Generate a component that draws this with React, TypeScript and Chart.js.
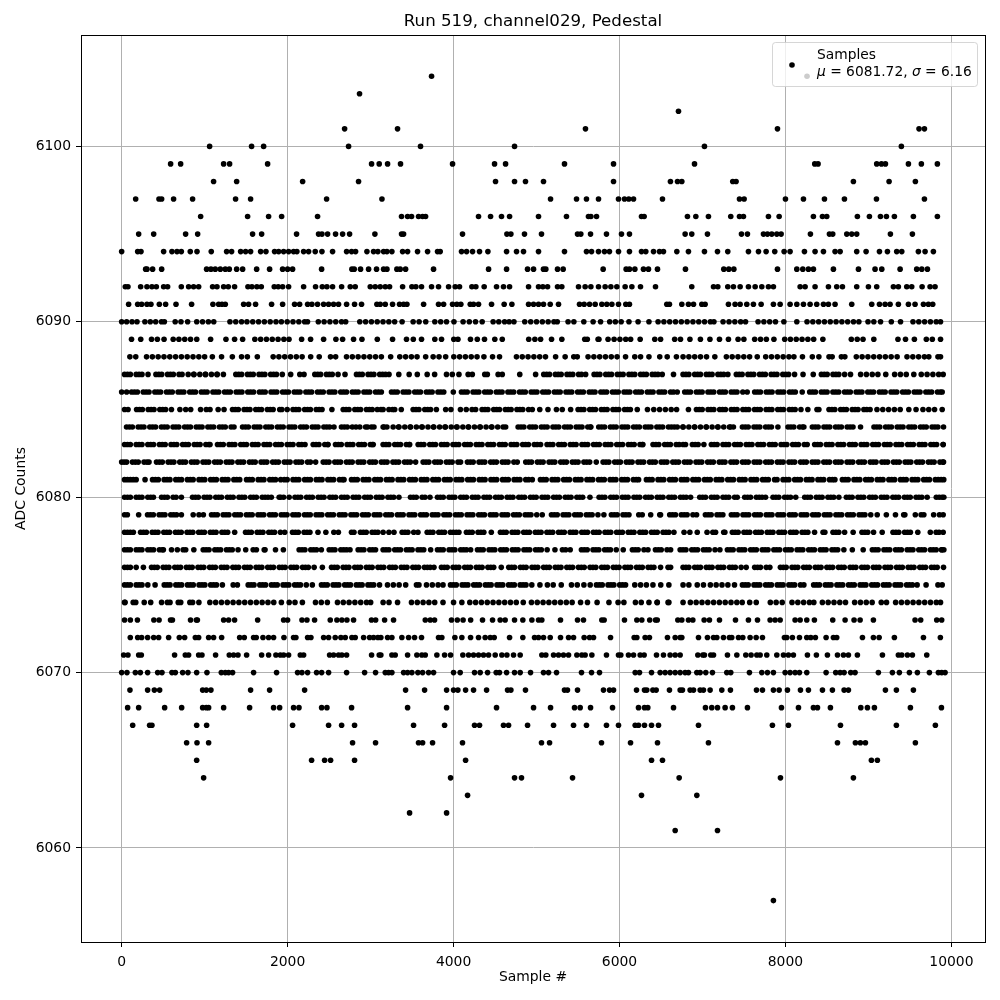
import React, { useEffect, useRef } from "react";
import { Chart, registerables } from "chart.js";

Chart.register(...registerables);

const chartTitle = "Run 519, channel029, Pedestal";
const xTitle = "Sample #";
const yTitle = "ADC Counts";
const legendName = "Samples";
const xTicks = [0, 2000, 4000, 6000, 8000, 10000];
const yTicks = [6060, 6070, 6080, 6090, 6100];

const r6104 = [3735, 8260];
const r6103 = [2867];
const r6102 = [6711];
const r6101 = [2687, 3325, 5590, 7904, 9610, 9675];
const r6100 = [1060, 1566, 1711, 2735, 3602, 4735, 7024, 9397];
const r6099 = [590, 711, 1229, 1301, 1759, 3012, 3104, 3205, 3361, 3988, 4494, 4627, 5337, 5928, 6904, 8353, 8393, 9100, 9157, 9205, 9482, 9638, 9831];
const r6098 = [1108, 1386, 2181, 2855, 4506, 4735, 4867, 5084, 5928, 6614, 6699, 6751, 7365, 7405, 8819, 9249, 9566];
const r6097 = [169, 450, 482, 626, 855, 1373, 1554, 2470, 3137, 5169, 5482, 5602, 5747, 5988, 6060, 6112, 6169, 6518, 7446, 7502, 8000, 8217, 8470, 8711, 9097, 9675];
const r6096 = [952, 1518, 1771, 1928, 2361, 3373, 3446, 3494, 3578, 3627, 3663, 4301, 4446, 4578, 4675, 5024, 5361, 5626, 5655, 5723, 6265, 6297, 6819, 6920, 7072, 7341, 7446, 7494, 7795, 7924, 8337, 8446, 8498, 8867, 9012, 9145, 9217, 9313, 9542, 9831];
const r6095 = [205, 386, 771, 916, 1578, 1687, 2108, 2373, 2414, 2482, 2578, 2663, 2747, 3052, 3373, 3398, 4108, 4643, 4691, 4855, 5060, 5494, 5534, 5651, 5843, 6024, 6120, 6791, 6871, 7060, 7470, 7542, 7735, 7783, 7835, 7896, 7948, 8301, 8530, 8570, 8739, 8799, 8859, 9265, 9530];
const r6094 = [0, 193, 233, 506, 606, 667, 719, 827, 908, 1080, 1265, 1325, 1434, 1494, 1554, 1675, 1739, 1843, 1892, 1952, 2012, 2072, 2112, 2193, 2253, 2333, 2414, 2542, 2711, 2771, 2819, 2956, 3036, 3088, 3157, 3197, 3257, 3386, 3446, 3566, 3687, 3807, 3839, 4096, 4157, 4229, 4313, 4414, 4639, 4759, 4843, 5024, 5337, 5602, 5663, 5747, 5819, 5879, 5988, 6120, 6265, 6317, 6410, 6482, 6530, 6691, 6831, 7024, 7181, 7305, 7554, 7675, 7767, 7871, 7984, 8056, 8229, 8357, 8458, 8598, 8659, 8859, 8972, 9133, 9229, 9341, 9402, 9602, 9683, 9783];
const r6093 = [289, 305, 373, 482, 1024, 1076, 1128, 1189, 1249, 1297, 1386, 1458, 1627, 1783, 1940, 2000, 2060, 2410, 2775, 2803, 2879, 2976, 3072, 3157, 3197, 3317, 3357, 3422, 3759, 4422, 4639, 4892, 4964, 5084, 5112, 5253, 5321, 5803, 6080, 6120, 6185, 6289, 6349, 6458, 6795, 7257, 7317, 7378, 7904, 8137, 8209, 8277, 8337, 8578, 8880, 9080, 9161, 9382, 9582, 9643, 9711];
const r6092 = [44, 76, 229, 305, 365, 418, 506, 554, 719, 807, 867, 928, 1096, 1149, 1229, 1285, 1361, 1522, 1570, 1630, 1683, 1839, 1887, 1940, 2012, 2193, 2337, 2418, 2474, 2542, 2651, 2755, 2815, 2996, 3056, 3116, 3177, 3229, 3386, 3498, 3546, 3614, 3735, 3819, 3940, 4020, 4072, 4221, 4269, 4369, 4518, 4602, 4675, 4904, 5024, 5076, 5133, 5253, 5305, 5506, 5586, 5655, 5747, 5827, 5896, 5968, 6068, 6149, 6253, 6434, 6871, 7133, 7185, 7305, 7373, 7454, 7554, 7635, 7715, 7795, 7855, 8177, 8237, 8357, 8518, 8618, 8687, 8859, 9000, 9100, 9301, 9361, 9462, 9522, 9647, 9743, 9803];
const r6091 = [84, 193, 241, 305, 353, 454, 530, 655, 843, 1100, 1169, 1209, 1249, 1470, 1530, 1614, 1807, 1940, 2084, 2145, 2241, 2293, 2361, 2434, 2494, 2554, 2614, 2711, 2807, 2891, 3076, 3116, 3177, 3265, 3349, 3398, 3438, 3639, 3819, 3880, 3988, 4040, 4088, 4201, 4241, 4301, 4458, 4610, 4703, 4904, 4964, 5024, 5084, 5165, 5265, 5518, 5574, 5639, 5707, 5787, 5847, 5908, 5988, 6076, 6120, 6570, 6602, 6751, 6831, 6892, 6992, 7032, 7313, 7393, 7454, 7534, 7614, 7707, 7855, 7936, 8056, 8137, 8217, 8297, 8377, 8458, 8518, 8598, 8799, 9040, 9133, 9201, 9261, 9361, 9482, 9562, 9663, 9723, 9775];
const r6090 = [0, 60, 125, 185, 280, 345, 410, 480, 515, 645, 715, 795, 905, 975, 1045, 1110, 1305, 1375, 1445, 1510, 1580, 1650, 1720, 1790, 1860, 1925, 1995, 2065, 2135, 2205, 2240, 2370, 2440, 2510, 2580, 2650, 2700, 2870, 2940, 3010, 3080, 3150, 3220, 3290, 3380, 3513, 3585, 3665, 3774, 3845, 3915, 4005, 4115, 4190, 4265, 4345, 4477, 4545, 4615, 4670, 4728, 4858, 4930, 5000, 5070, 5140, 5210, 5250, 5380, 5450, 5570, 5682, 5772, 5882, 5950, 6020, 6114, 6224, 6355, 6465, 6535, 6605, 6675, 6745, 6815, 6885, 6955, 7025, 7095, 7138, 7248, 7320, 7390, 7460, 7519, 7670, 7740, 7810, 7880, 7981, 8137, 8260, 8330, 8400, 8470, 8540, 8610, 8680, 8750, 8820, 8885, 8995, 9065, 9146, 9276, 9387, 9537, 9607, 9677, 9747, 9817, 9869];
const r6089 = [119, 230, 360, 430, 511, 621, 690, 760, 830, 905, 1072, 1257, 1361, 1458, 1605, 1675, 1745, 1815, 1885, 1955, 2017, 2169, 2277, 2434, 2582, 2663, 2795, 2896, 3081, 3265, 3433, 3515, 3614, 3774, 3855, 4003, 4053, 4204, 4286, 4373, 4497, 4587, 4906, 4980, 5049, 5181, 5305, 5581, 5612, 5742, 5752, 5862, 5935, 6005, 6075, 6134, 6249, 6425, 6495, 6665, 6735, 6849, 6975, 7090, 7205, 7313, 7429, 7499, 7629, 7700, 7770, 7861, 7991, 8060, 8130, 8200, 8270, 8340, 8451, 8794, 8865, 8935, 9065, 9356, 9447, 9554, 9698, 9770, 9869];
const r6088 = [99, 170, 300, 370, 440, 510, 580, 650, 720, 790, 860, 930, 1000, 1093, 1204, 1334, 1445, 1515, 1635, 1826, 1895, 1965, 2035, 2105, 2175, 2278, 2381, 2517, 2579, 2710, 2780, 2850, 2920, 2990, 3060, 3130, 3242, 3352, 3422, 3492, 3560, 3664, 3754, 3825, 3905, 4003, 4073, 4143, 4213, 4283, 4366, 4470, 4554, 4758, 4828, 4898, 4968, 5038, 5108, 5230, 5345, 5449, 5491, 5621, 5691, 5761, 5831, 5901, 5971, 6073, 6184, 6254, 6355, 6485, 6575, 6686, 6766, 6836, 6906, 6976, 7049, 7149, 7288, 7358, 7428, 7498, 7568, 7660, 7762, 7832, 7902, 7972, 8042, 8102, 8205, 8324, 8403, 8525, 8563, 8674, 8716, 8854, 8924, 8994, 9064, 9134, 9204, 9274, 9346, 9465, 9535, 9605, 9675, 9728, 9838, 9869];
const r6087 = [35, 105, 175, 245, 318, 413, 483, 553, 623, 692, 802, 872, 942, 1012, 1082, 1152, 1226, 1376, 1446, 1516, 1586, 1656, 1726, 1796, 1866, 1936, 2037, 2147, 2198, 2328, 2398, 2468, 2538, 2608, 2692, 2830, 2900, 2970, 3040, 3110, 3180, 3222, 3340, 3465, 3563, 3682, 3772, 3915, 3985, 4065, 4176, 4226, 4376, 4407, 4537, 4587, 4798, 4989, 5087, 5157, 5227, 5297, 5367, 5437, 5507, 5592, 5694, 5764, 5834, 5904, 5974, 6044, 6114, 6184, 6254, 6324, 6394, 6464, 6515, 6651, 6766, 6836, 6906, 6976, 7046, 7116, 7186, 7256, 7306, 7408, 7478, 7548, 7618, 7688, 7758, 7828, 7898, 7968, 8038, 8110, 8212, 8335, 8433, 8503, 8573, 8643, 8713, 8784, 8906, 8976, 9046, 9114, 9209, 9316, 9386, 9456, 9547, 9637, 9707, 9777, 9847, 9901];
const r6086 = [0, 60, 120, 190, 260, 330, 400, 470, 540, 610, 680, 750, 820, 890, 960, 1030, 1100, 1170, 1240, 1310, 1380, 1450, 1520, 1590, 1660, 1730, 1800, 1870, 1940, 2010, 2080, 2150, 2220, 2290, 2360, 2430, 2500, 2570, 2640, 2710, 2780, 2850, 2920, 2990, 3060, 3130, 3252, 3322, 3392, 3462, 3532, 3602, 3672, 3742, 3812, 3882, 3997, 4095, 4165, 4235, 4305, 4375, 4445, 4515, 4585, 4655, 4725, 4795, 4865, 4935, 5005, 5075, 5145, 5215, 5285, 5355, 5425, 5495, 5565, 5635, 5705, 5775, 5845, 5915, 5985, 6055, 6125, 6195, 6265, 6335, 6405, 6475, 6545, 6615, 6696, 6786, 6856, 6926, 6996, 7066, 7136, 7206, 7276, 7346, 7416, 7486, 7539, 7629, 7699, 7769, 7839, 7909, 7979, 8049, 8119, 8202, 8292, 8362, 8432, 8502, 8572, 8642, 8712, 8782, 8852, 8922, 8992, 9062, 9132, 9202, 9272, 9342, 9412, 9482, 9552, 9622, 9692, 9762, 9832, 9889];
const r6085 = [35, 77, 180, 250, 320, 390, 460, 530, 600, 702, 772, 832, 951, 1020, 1065, 1163, 1234, 1336, 1406, 1476, 1546, 1616, 1686, 1756, 1826, 1905, 1995, 2065, 2135, 2205, 2275, 2345, 2415, 2534, 2670, 2740, 2810, 2880, 2950, 3020, 3081, 3151, 3221, 3291, 3370, 3513, 3583, 3653, 3723, 3793, 3905, 3968, 4083, 4153, 4223, 4266, 4344, 4414, 4484, 4554, 4624, 4694, 4764, 4834, 4904, 4949, 5039, 5138, 5240, 5310, 5411, 5501, 5571, 5641, 5711, 5781, 5851, 5921, 5991, 6061, 6131, 6214, 6337, 6413, 6483, 6553, 6623, 6688, 6831, 6927, 6997, 7067, 7137, 7207, 7277, 7347, 7417, 7487, 7557, 7627, 7697, 7767, 7837, 7907, 7977, 8047, 8117, 8187, 8270, 8380, 8403, 8525, 8595, 8665, 8735, 8805, 8875, 8945, 9020, 9103, 9173, 9243, 9313, 9383, 9487, 9574, 9657, 9727, 9797, 9889];
const r6084 = [59, 129, 199, 269, 339, 409, 479, 549, 619, 689, 759, 829, 899, 969, 1039, 1109, 1179, 1249, 1319, 1354, 1457, 1527, 1597, 1667, 1737, 1807, 1877, 1947, 2017, 2087, 2157, 2227, 2297, 2367, 2437, 2507, 2559, 2649, 2719, 2780, 2870, 2940, 3010, 3041, 3151, 3162, 3272, 3342, 3412, 3482, 3552, 3622, 3692, 3762, 3832, 3902, 3972, 4042, 4112, 4182, 4252, 4322, 4392, 4462, 4532, 4628, 4778, 4848, 4918, 4988, 5058, 5128, 5198, 5268, 5338, 5408, 5478, 5548, 5618, 5652, 5750, 5820, 5890, 5960, 6030, 6100, 6170, 6240, 6310, 6380, 6450, 6520, 6590, 6660, 6696, 6766, 6836, 6906, 6976, 7046, 7116, 7186, 7256, 7338, 7373, 7481, 7551, 7621, 7691, 7761, 7831, 7909, 8031, 8101, 8171, 8222, 8324, 8394, 8464, 8534, 8604, 8674, 8744, 8814, 8905, 9067, 9137, 9207, 9277, 9347, 9417, 9487, 9557, 9627, 9697, 9767, 9837, 9905];
const r6083 = [35, 105, 175, 245, 315, 385, 455, 525, 595, 665, 735, 805, 875, 945, 1015, 1065, 1155, 1225, 1295, 1365, 1435, 1505, 1575, 1645, 1715, 1785, 1855, 1925, 1995, 2065, 2135, 2210, 2308, 2378, 2448, 2487, 2577, 2647, 2717, 2787, 2857, 2927, 2997, 3021, 3151, 3221, 3291, 3361, 3431, 3471, 3573, 3643, 3713, 3783, 3853, 3923, 3993, 4063, 4133, 4203, 4273, 4343, 4413, 4483, 4553, 4623, 4693, 4763, 4833, 4903, 4973, 5049, 5127, 5197, 5267, 5337, 5407, 5477, 5547, 5617, 5687, 5757, 5827, 5897, 5967, 6037, 6107, 6177, 6247, 6274, 6404, 6474, 6544, 6614, 6684, 6766, 6796, 6878, 6948, 7017, 7107, 7177, 7247, 7317, 7387, 7457, 7527, 7597, 7667, 7737, 7807, 7877, 7947, 8017, 8087, 8157, 8227, 8262, 8352, 8422, 8492, 8562, 8632, 8702, 8772, 8842, 8912, 8982, 9052, 9122, 9192, 9262, 9332, 9402, 9472, 9542, 9612, 9682, 9752, 9822, 9901];
const r6082 = [0, 60, 130, 200, 270, 330, 420, 490, 560, 630, 700, 770, 840, 910, 980, 1050, 1120, 1190, 1260, 1330, 1400, 1470, 1540, 1610, 1680, 1750, 1820, 1890, 1960, 2030, 2100, 2170, 2240, 2338, 2429, 2499, 2569, 2639, 2709, 2779, 2849, 2919, 2989, 3059, 3129, 3199, 3269, 3339, 3409, 3479, 3543, 3633, 3703, 3773, 3843, 3913, 3983, 4053, 4085, 4167, 4237, 4307, 4377, 4447, 4517, 4587, 4657, 4727, 4768, 4870, 4940, 5010, 5080, 5151, 5221, 5291, 5361, 5431, 5501, 5571, 5641, 5720, 5802, 5872, 5942, 6012, 6082, 6152, 6222, 6292, 6362, 6432, 6502, 6572, 6642, 6712, 6782, 6852, 6922, 6992, 7062, 7132, 7202, 7272, 7342, 7412, 7482, 7552, 7622, 7692, 7762, 7832, 7902, 7972, 8042, 8112, 8182, 8252, 8322, 8392, 8462, 8532, 8602, 8672, 8742, 8812, 8882, 8952, 9022, 9092, 9162, 9232, 9302, 9372, 9442, 9512, 9582, 9652, 9722, 9792, 9862, 9905];
const r6081 = [35, 105, 175, 282, 372, 442, 512, 582, 652, 722, 792, 862, 932, 1002, 1072, 1142, 1212, 1282, 1352, 1423, 1505, 1575, 1645, 1715, 1785, 1855, 1917, 1995, 2065, 2135, 2205, 2275, 2345, 2415, 2485, 2555, 2625, 2680, 2770, 2840, 2910, 2980, 3050, 3120, 3190, 3260, 3330, 3400, 3470, 3540, 3610, 3680, 3750, 3820, 3890, 3960, 4030, 4100, 4170, 4240, 4310, 4380, 4450, 4520, 4590, 4660, 4730, 4800, 4870, 4949, 5047, 5117, 5187, 5257, 5327, 5397, 5467, 5537, 5607, 5677, 5747, 5817, 5887, 5957, 6027, 6097, 6167, 6230, 6324, 6394, 6464, 6534, 6604, 6674, 6744, 6814, 6884, 6954, 7024, 7094, 7164, 7234, 7304, 7374, 7444, 7514, 7584, 7654, 7724, 7794, 7869, 7971, 8041, 8111, 8181, 8251, 8321, 8391, 8461, 8531, 8596, 8686, 8756, 8826, 8896, 8966, 9036, 9106, 9176, 9246, 9316, 9386, 9456, 9526, 9596, 9666, 9736, 9806, 9876, 9908];
const r6080 = [35, 105, 175, 245, 315, 383, 481, 551, 620, 720, 854, 924, 994, 1064, 1134, 1204, 1274, 1344, 1414, 1484, 1554, 1624, 1694, 1764, 1804, 1898, 1917, 2019, 2089, 2159, 2229, 2299, 2369, 2439, 2509, 2579, 2649, 2719, 2789, 2859, 2929, 2999, 3069, 3139, 3209, 3279, 3342, 3481, 3551, 3621, 3716, 3806, 3876, 3946, 4016, 4086, 4156, 4226, 4296, 4366, 4436, 4506, 4576, 4646, 4716, 4786, 4856, 4926, 4996, 5066, 5136, 5206, 5276, 5346, 5416, 5486, 5556, 5644, 5754, 5824, 5894, 5964, 6034, 6104, 6174, 6244, 6314, 6384, 6454, 6524, 6594, 6664, 6734, 6804, 6857, 6967, 7037, 7107, 7177, 7247, 7317, 7387, 7419, 7509, 7579, 7649, 7719, 7760, 7850, 7920, 7990, 8061, 8124, 8232, 8302, 8372, 8442, 8512, 8582, 8644, 8734, 8804, 8874, 8944, 9014, 9084, 9154, 9224, 9294, 9364, 9434, 9504, 9574, 9644, 9708, 9818, 9888, 9909];
const r6079 = [35, 69, 205, 312, 382, 452, 522, 592, 662, 720, 862, 932, 985, 1083, 1153, 1223, 1293, 1363, 1433, 1503, 1573, 1643, 1713, 1783, 1853, 1923, 1993, 2063, 2133, 2203, 2273, 2343, 2413, 2483, 2553, 2623, 2693, 2763, 2833, 2903, 2973, 3043, 3113, 3183, 3253, 3323, 3393, 3463, 3533, 3603, 3673, 3743, 3813, 3883, 3953, 4023, 4093, 4163, 4233, 4303, 4373, 4443, 4513, 4583, 4653, 4723, 4793, 4863, 4933, 5003, 5069, 5180, 5250, 5320, 5390, 5460, 5530, 5600, 5670, 5740, 5812, 5902, 5972, 6042, 6114, 6232, 6274, 6376, 6485, 6495, 6605, 6675, 6745, 6815, 6885, 6929, 7035, 7105, 7175, 7246, 7348, 7418, 7488, 7558, 7628, 7698, 7768, 7838, 7908, 7978, 8048, 8118, 8188, 8258, 8328, 8398, 8468, 8538, 8608, 8678, 8748, 8818, 8888, 8958, 9028, 9106, 9216, 9326, 9425, 9439, 9565, 9635, 9668, 9786, 9856, 9901];
const r6078 = [35, 105, 141, 228, 298, 368, 438, 508, 578, 648, 718, 788, 858, 928, 998, 1068, 1138, 1208, 1278, 1362, 1493, 1563, 1633, 1703, 1773, 1843, 1913, 1965, 2059, 2129, 2199, 2269, 2366, 2461, 2557, 2612, 2770, 2800, 2878, 2948, 3018, 3088, 3151, 3221, 3282, 3380, 3450, 3520, 3571, 3682, 3752, 3822, 3892, 3962, 4032, 4065, 4155, 4225, 4295, 4365, 4455, 4565, 4635, 4705, 4775, 4845, 4915, 4985, 5055, 5125, 5195, 5265, 5335, 5405, 5475, 5545, 5615, 5685, 5755, 5825, 5895, 5965, 6035, 6105, 6175, 6245, 6315, 6385, 6455, 6525, 6595, 6656, 6778, 6848, 6937, 7055, 7125, 7158, 7256, 7270, 7360, 7430, 7500, 7570, 7640, 7710, 7780, 7850, 7920, 7990, 8060, 8130, 8200, 8270, 8351, 8453, 8475, 8573, 8643, 8713, 8816, 8922, 8992, 9062, 9166, 9296, 9366, 9436, 9506, 9595, 9746, 9816, 9901];
const r6077 = [35, 105, 175, 245, 315, 385, 455, 503, 601, 671, 741, 772, 870, 983, 1053, 1123, 1193, 1263, 1333, 1403, 1495, 1585, 1624, 1718, 1728, 1854, 1949, 2139, 2209, 2279, 2349, 2407, 2501, 2571, 2641, 2711, 2752, 2850, 2920, 2990, 3060, 3151, 3221, 3291, 3361, 3431, 3501, 3571, 3641, 3724, 3806, 3876, 3946, 4016, 4086, 4156, 4206, 4288, 4358, 4428, 4498, 4568, 4638, 4708, 4778, 4848, 4918, 4988, 5058, 5128, 5222, 5312, 5351, 5406, 5541, 5611, 5681, 5751, 5821, 5891, 5961, 6045, 6155, 6225, 6295, 6343, 6433, 6503, 6573, 6616, 6731, 6801, 6871, 6941, 7011, 7081, 7151, 7210, 7300, 7370, 7440, 7510, 7580, 7650, 7720, 7790, 7860, 7930, 8000, 8070, 8140, 8210, 8280, 8350, 8420, 8490, 8560, 8630, 8704, 8806, 8937, 9047, 9117, 9187, 9257, 9327, 9397, 9467, 9537, 9607, 9677, 9747, 9817, 9887, 9909];
const r6076 = [35, 105, 175, 262, 360, 430, 500, 570, 640, 710, 780, 850, 920, 990, 1060, 1130, 1200, 1270, 1340, 1410, 1480, 1550, 1620, 1690, 1760, 1830, 1900, 1970, 2040, 2110, 2180, 2250, 2320, 2419, 2529, 2599, 2669, 2739, 2809, 2879, 2949, 3019, 3089, 3159, 3229, 3299, 3369, 3439, 3509, 3579, 3649, 3719, 3764, 3854, 3924, 3994, 4064, 4134, 4204, 4274, 4344, 4414, 4484, 4575, 4665, 4735, 4805, 4875, 4945, 5015, 5085, 5155, 5225, 5295, 5365, 5435, 5505, 5575, 5645, 5715, 5785, 5855, 5925, 5995, 6065, 6135, 6205, 6275, 6345, 6415, 6495, 6585, 6616, 6766, 6836, 6906, 6976, 7046, 7116, 7186, 7256, 7326, 7396, 7466, 7527, 7629, 7699, 7769, 7812, 7939, 8009, 8079, 8149, 8219, 8289, 8359, 8429, 8499, 8569, 8639, 8709, 8779, 8849, 8919, 8989, 9059, 9129, 9199, 9269, 9339, 9409, 9479, 9549, 9619, 9689, 9759, 9829, 9905];
const r6075 = [35, 105, 175, 245, 315, 403, 513, 583, 653, 723, 793, 863, 933, 1003, 1073, 1143, 1214, 1344, 1395, 1525, 1595, 1665, 1735, 1805, 1875, 1945, 2015, 2085, 2155, 2225, 2298, 2408, 2478, 2548, 2618, 2688, 2758, 2828, 2898, 2968, 3038, 3108, 3204, 3274, 3344, 3423, 3553, 3583, 3674, 3744, 3814, 3873, 3963, 4033, 4103, 4173, 4243, 4313, 4383, 4453, 4523, 4593, 4663, 4733, 4803, 4873, 4943, 5041, 5131, 5201, 5298, 5421, 5491, 5571, 5647, 5722, 5792, 5862, 5932, 6002, 6073, 6184, 6254, 6324, 6403, 6497, 6595, 6766, 6836, 6937, 7012, 7095, 7165, 7235, 7306, 7386, 7481, 7551, 7621, 7691, 7761, 7831, 7901, 7971, 8041, 8111, 8181, 8222, 8340, 8410, 8480, 8550, 8620, 8690, 8760, 8830, 8900, 8970, 9040, 9110, 9180, 9250, 9320, 9390, 9460, 9530, 9587, 9695, 9838, 9889];
const r6074 = [35, 41, 139, 170, 272, 350, 481, 551, 583, 682, 712, 822, 855, 931, 1063, 1133, 1203, 1273, 1343, 1413, 1483, 1553, 1623, 1693, 1763, 1833, 1925, 2019, 2089, 2178, 2336, 2406, 2479, 2601, 2671, 2741, 2811, 2881, 2951, 3001, 3151, 3222, 3325, 3493, 3563, 3633, 3703, 3773, 3873, 4000, 4100, 4196, 4266, 4336, 4406, 4476, 4546, 4616, 4686, 4756, 4840, 4939, 5009, 5079, 5149, 5219, 5289, 5359, 5429, 5531, 5614, 5730, 5873, 5983, 6053, 6192, 6262, 6355, 6453, 6455, 6585, 6595, 6766, 6854, 6924, 6994, 7064, 7134, 7204, 7274, 7344, 7414, 7479, 7569, 7648, 7818, 7888, 7961, 8079, 8149, 8219, 8289, 8342, 8445, 8515, 8585, 8655, 8724, 8834, 8904, 8974, 9045, 9155, 9218, 9328, 9398, 9468, 9538, 9608, 9678, 9748, 9818, 9869];
const r6073 = [35, 105, 190, 388, 451, 589, 612, 830, 900, 913, 1229, 1289, 1361, 1639, 1952, 2000, 2173, 2233, 2325, 2514, 2594, 2654, 2715, 2795, 3011, 3061, 3169, 3277, 3659, 3719, 3771, 3975, 4045, 4115, 4206, 4349, 4470, 4562, 4622, 4735, 4835, 4944, 5024, 5064, 5289, 5494, 5566, 5787, 5815, 6060, 6209, 6269, 6364, 6434, 6455, 6703, 6751, 6831, 6884, 7020, 7084, 7205, 7398, 7554, 7663, 7815, 7875, 7936, 8116, 8177, 8257, 8349, 8570, 8719, 8827, 8900, 9060, 9562, 9630, 9823, 9883];
const r6072 = [104, 193, 241, 313, 386, 446, 566, 695, 759, 888, 928, 1048, 1108, 1205, 1422, 1478, 1590, 1622, 1703, 1771, 1831, 1956, 2072, 2100, 2241, 2281, 2434, 2494, 2574, 2642, 2695, 2775, 2815, 2916, 2988, 3036, 3088, 3124, 3205, 3257, 3377, 3458, 3530, 3614, 3819, 3859, 4016, 4100, 4205, 4301, 4381, 4442, 4490, 4675, 4835, 4976, 5024, 5084, 5165, 5289, 5386, 5446, 5574, 5639, 5687, 5892, 6177, 6209, 6309, 6361, 6578, 6671, 6731, 6751, 6952, 7060, 7133, 7173, 7253, 7325, 7353, 7434, 7486, 7574, 7647, 7723, 7988, 8016, 8084, 8169, 8257, 8305, 8361, 8490, 8578, 8618, 8928, 9060, 9129, 9313, 9663, 9867];
const r6071 = [24, 76, 205, 237, 638, 767, 807, 928, 968, 1132, 1297, 1349, 1402, 1506, 1687, 1771, 1859, 1912, 1952, 2012, 2153, 2193, 2506, 2554, 2614, 2654, 2711, 3012, 3104, 3124, 3257, 3297, 3446, 3558, 3618, 3659, 3799, 3892, 3964, 4112, 4181, 4241, 4301, 4361, 4422, 4502, 4582, 4643, 4723, 4803, 5064, 5112, 5205, 5265, 5325, 5386, 5486, 5546, 5586, 5667, 5843, 5988, 6016, 6108, 6169, 6249, 6297, 6446, 6530, 6610, 6671, 6731, 6944, 7004, 7024, 7100, 7133, 7301, 7414, 7522, 7586, 7655, 7695, 7775, 7896, 7976, 8036, 8096, 8265, 8373, 8506, 8627, 8699, 8759, 8867, 9169, 9361, 9402, 9470, 9530, 9703];
const r6070 = [0, 64, 165, 225, 313, 434, 486, 606, 647, 735, 799, 904, 1028, 1201, 1249, 1289, 1337, 1590, 1867, 2120, 2173, 2241, 2349, 2410, 2494, 2711, 2928, 3060, 3177, 3217, 3257, 3398, 3446, 3498, 3570, 3627, 3699, 3759, 4000, 4080, 4253, 4321, 4410, 4514, 4554, 4639, 4735, 4803, 4928, 5084, 5145, 5241, 5542, 5663, 5759, 6189, 6241, 6386, 6490, 6550, 6610, 6671, 6731, 6791, 6831, 6932, 6972, 7040, 7120, 7293, 7341, 7566, 7715, 7783, 7855, 7996, 8056, 8116, 8169, 8257, 8490, 8606, 8659, 8707, 8787, 8839, 9120, 9289, 9373, 9494, 9590, 9735, 9843, 9883, 9924];
const r6069 = [100, 313, 394, 458, 976, 1020, 1076, 1554, 1783, 2205, 3422, 3651, 3916, 4000, 4052, 4145, 4241, 4398, 4651, 4691, 4867, 5337, 5373, 5494, 5807, 5880, 5928, 6205, 6301, 6329, 6402, 6442, 6602, 6731, 6759, 6851, 6892, 6972, 7012, 7092, 7233, 7337, 7651, 7723, 7855, 7924, 8024, 8181, 8277, 8446, 8566, 8707, 8759, 9205, 9337, 9542];
const r6068 = [72, 205, 518, 723, 976, 1020, 1048, 1229, 1542, 1831, 1904, 2072, 2137, 2410, 2474, 2771, 3446, 3916, 4518, 4964, 5169, 5458, 5526, 5651, 5916, 6229, 6301, 6341, 6651, 7036, 7112, 7181, 7273, 7361, 7542, 7952, 8157, 8337, 8386, 8542, 8908, 8988, 9072, 9506, 9880];
const r6067 = [133, 337, 365, 904, 1024, 2060, 2494, 2651, 2807, 3518, 3892, 4253, 4313, 4602, 4663, 4892, 5205, 5446, 5602, 5843, 5988, 6189, 6229, 6301, 6386, 6470, 6952, 7843, 8036, 8663, 9337, 9807];
const r6066 = [783, 908, 1048, 2783, 3060, 3578, 3627, 3747, 4108, 5060, 5157, 5783, 6133, 6458, 7072, 8627, 8843, 8903, 8964, 9566];
const r6065 = [904, 2289, 2446, 2518, 2807, 4145, 6386, 6518, 9036, 9108];
const r6064 = [988, 3964, 4735, 4819, 5434, 6719, 7940, 8819];
const r6063 = [4169, 6265, 6932];
const r6062 = [3470, 3916];
const r6061 = [6671, 7181];
const r6057 = [7855];

const f6087 = [70, 210, 448, 588, 728, 868, 1008, 1148, 1411, 1551, 1691, 1831, 2363, 2503, 2865, 3005, 3145, 5122, 5262, 5402, 5542, 5729, 5869, 6009, 6149, 6289, 6429, 6801, 6941, 7081, 7221, 7443, 7583, 7723, 7863, 8003, 8468, 8608];
const f6086 = [155, 295, 435, 575, 715, 855, 995, 1135, 1275, 1415, 1555, 1695, 1835, 1975, 2115, 2255, 2395, 2535, 2675, 2815, 2955, 3095, 3287, 3427, 3567, 3707, 3847, 4130, 4270, 4410, 4550, 4690, 4830, 4970, 5110, 5250, 5390, 5530, 5670, 5810, 5950, 6090, 6230, 6370, 6510, 6650, 6821, 6961, 7101, 7241, 7381, 7664, 7804, 7944, 8084, 8327, 8467, 8607, 8747, 8887, 9027, 9167, 9307, 9447, 9587, 9727, 9867];
const f6085 = [215, 355, 495, 1371, 1511, 1651, 1791, 1931, 2100, 2240, 2380, 2705, 2845, 2985, 3125, 3265, 3548, 3688, 4379, 4519, 4659, 4799, 5536, 5676, 5816, 5956, 6096, 6962, 7102, 7242, 7382, 7522, 7662, 7802, 7942, 8082, 8560, 8700, 8840, 8980];
const f6084 = [94, 234, 374, 514, 654, 794, 934, 1074, 1214, 1492, 1632, 1772, 1912, 2052, 2192, 2332, 2472, 2684, 2824, 2964, 3197, 3337, 3477, 3617, 3757, 3897, 4037, 4177, 4317, 4457, 4597, 4813, 4953, 5093, 5233, 5373, 5513, 5653, 5785, 5925, 6065, 6205, 6345, 6485, 6625, 6765, 6905, 7045, 7185, 7325, 7516, 7656, 7796, 8066, 8206, 8359, 8499, 8639, 8779, 9102, 9242, 9382, 9522, 9662, 9802];
const f6083 = [70, 210, 350, 490, 630, 770, 910, 1050, 1190, 1330, 1470, 1610, 1750, 1890, 2030, 2170, 2343, 2483, 2612, 2752, 2892, 3032, 3186, 3326, 3466, 3608, 3748, 3888, 4028, 4168, 4308, 4448, 4588, 4728, 4868, 5008, 5162, 5302, 5442, 5582, 5722, 5862, 6002, 6142, 6282, 6439, 6579, 6719, 6913, 7142, 7282, 7422, 7562, 7702, 7842, 7982, 8122, 8387, 8527, 8667, 8807, 8947, 9087, 9227, 9367, 9507, 9647, 9787, 9900];
const f6082 = [30, 165, 305, 455, 595, 735, 875, 1015, 1155, 1295, 1435, 1575, 1715, 1855, 1995, 2135, 2275, 2464, 2604, 2744, 2884, 3024, 3164, 3304, 3444, 3668, 3808, 3948, 4202, 4342, 4482, 4622, 4905, 5045, 5186, 5326, 5466, 5606, 5837, 5977, 6117, 6257, 6397, 6537, 6677, 6817, 6957, 7097, 7237, 7377, 7517, 7657, 7797, 7937, 8077, 8217, 8357, 8497, 8637, 8777, 8917, 9057, 9197, 9337, 9477, 9617, 9757, 9897];
const f6081 = [70, 140, 407, 547, 687, 827, 967, 1107, 1247, 1387, 1540, 1680, 1820, 1960, 2100, 2240, 2380, 2520, 2660, 2805, 2945, 3085, 3225, 3365, 3505, 3645, 3785, 3925, 4065, 4205, 4345, 4485, 4625, 4765, 4905, 5082, 5222, 5362, 5502, 5642, 5782, 5922, 6062, 6202, 6359, 6499, 6639, 6779, 6919, 7059, 7199, 7339, 7479, 7619, 7759, 7899, 8006, 8146, 8286, 8426, 8566, 8721, 8861, 9001, 9141, 9281, 9421, 9561, 9701, 9841];
const f6080 = [70, 210, 350, 516, 656, 889, 1029, 1169, 1309, 1449, 1589, 1729, 1952, 2124, 2264, 2404, 2544, 2684, 2824, 2964, 3104, 3244, 3516, 3656, 3841, 3981, 4121, 4261, 4401, 4541, 4681, 4821, 4961, 5101, 5241, 5381, 5521, 5789, 5929, 6069, 6209, 6349, 6489, 6629, 6769, 7002, 7142, 7282, 7544, 7684, 7885, 8025, 8267, 8407, 8547, 8769, 8909, 9049, 9189, 9329, 9469, 9609, 9853];
const f6079 = [347, 487, 627, 1118, 1258, 1398, 1538, 1678, 1818, 1958, 2098, 2238, 2378, 2518, 2658, 2798, 2938, 3078, 3218, 3358, 3498, 3638, 3778, 3918, 4058, 4198, 4338, 4478, 4618, 4758, 4898, 5215, 5355, 5495, 5635, 5937, 6077, 6640, 6780, 7070, 7210, 7383, 7523, 7663, 7803, 7943, 8083, 8223, 8363, 8503, 8643, 8783, 8923];
const f6078 = [70, 263, 403, 543, 683, 823, 963, 1103, 1243, 1528, 1668, 1808, 2094, 2234, 2913, 3053, 3415, 3717, 3857, 3997, 4190, 4330, 4600, 4740, 4880, 5020, 5160, 5300, 5440, 5580, 5720, 5860, 6000, 6140, 6280, 6420, 6560, 7395, 7535, 7675, 7815, 7955, 8095, 8235, 8608, 8957, 9331, 9471, 9851];
const f6077 = [70, 210, 350, 490, 1018, 1158, 1298, 2174, 2314, 2536, 2676, 2885, 3025, 3186, 3326, 3466, 3606, 3841, 3981, 4121, 4323, 4463, 4603, 4743, 4883, 5023, 5576, 5716, 5856, 6190, 6468, 6766, 6906, 7046, 7335, 7475, 7615, 7755, 7895, 8035, 8175, 8315, 8455, 8595, 9082, 9222, 9362, 9502, 9642, 9782, 9880];
const f6076 = [70, 395, 535, 675, 815, 955, 1095, 1235, 1375, 1515, 1655, 1795, 1935, 2075, 2215, 2564, 2704, 2844, 2984, 3124, 3264, 3404, 3544, 3684, 3889, 4029, 4169, 4309, 4449, 4700, 4840, 4980, 5120, 5260, 5400, 5540, 5680, 5820, 5960, 6100, 6240, 6380, 6801, 6941, 7081, 7221, 7361, 7664, 7974, 8114, 8254, 8394, 8534, 8674, 8814, 8954, 9094, 9234, 9374, 9514, 9654, 9794];
const f6075 = [70, 210, 548, 688, 828, 968, 1108, 1560, 1700, 1840, 1980, 2120, 2443, 2583, 2723, 2863, 3003, 3998, 4138, 4278, 4418, 4558, 4698, 4838, 5757, 5897, 6037, 7516, 7656, 7796, 7936, 8076, 8375, 8515, 8655, 8795, 8935, 9075, 9215, 9355, 9495];

const levels: [number, number[]][] = [
  [6104, r6104], [6103, r6103], [6102, r6102], [6101, r6101], [6100, r6100], [6099, r6099], [6098, r6098],
  [6097, r6097], [6096, r6096], [6095, r6095], [6094, r6094], [6093, r6093], [6092, r6092], [6091, r6091],
  [6090, r6090], [6089, r6089], [6088, r6088], [6087, r6087], [6086, r6086], [6085, r6085], [6084, r6084],
  [6083, r6083], [6082, r6082], [6081, r6081], [6080, r6080], [6079, r6079], [6078, r6078], [6077, r6077],
  [6076, r6076], [6075, r6075], [6074, r6074], [6073, r6073], [6072, r6072], [6071, r6071], [6070, r6070],
  [6069, r6069], [6068, r6068], [6067, r6067], [6066, r6066], [6065, r6065], [6064, r6064], [6063, r6063],
  [6062, r6062], [6061, r6061], [6057, r6057],
  [6087, f6087], [6086, f6086], [6085, f6085], [6084, f6084], [6083, f6083], [6082, f6082], [6081, f6081],
  [6080, f6080], [6079, f6079], [6078, f6078], [6077, f6077], [6076, f6076], [6075, f6075],
];

const FONT = "'DejaVu Sans'";

const framePlugin = {
  id: "frame",
  afterDraw(chart: any) {
    const { ctx, chartArea: a } = chart;
    ctx.save();
    ctx.strokeStyle = "#000";
    ctx.lineWidth = 1;
    ctx.strokeRect(a.left + 0.5, a.top + 0.5, a.right - a.left, a.bottom - a.top);

    const x = 772.5, y = 42.5, w = 205, h = 44, r = 3;
    ctx.beginPath();
    ctx.roundRect(x, y, w, h, r);
    ctx.fillStyle = "rgba(255,255,255,0.8)";
    ctx.fill();
    ctx.strokeStyle = "rgba(204,204,204,0.8)";
    ctx.stroke();

    ctx.fillStyle = "#000";
    ctx.beginPath();
    ctx.arc(792, 65, 2.8, 0, Math.PI * 2);
    ctx.fill();

    ctx.textBaseline = "alphabetic";
    ctx.textAlign = "left";
    ctx.font = `13.8px ${FONT}`;
    ctx.fillText(legendName, 817, 59);
    const parts: [string, boolean][] = [["μ", true], [" = 6081.72, ", false], ["σ", true], [" = 6.16", false]];
    let tx = 817;
    for (const [s, it] of parts) {
      ctx.font = `${it ? "italic " : ""}13.8px ${FONT}`;
      ctx.fillText(s, tx, 76);
      tx += ctx.measureText(s).width;
    }
    ctx.restore();
  },
};

export default function App() {
  const ref = useRef<HTMLCanvasElement>(null);
  useEffect(() => {
    const points = levels.flatMap(([y, xs]) => xs.map((x) => ({ x, y })));
    const chart = new Chart(ref.current!, {
      type: "scatter",
      data: {
        datasets: [
          {
            label: legendName,
            data: points,
            pointRadius: 2.8,
            pointBorderWidth: 0,
            pointBackgroundColor: "#000",
          },
        ],
      },
      plugins: [framePlugin],
      options: {
        responsive: false,
        animation: false,
        devicePixelRatio: 1,
        layout: { padding: { left: 0, right: 15, top: 0, bottom: 0 } },
        plugins: {
          legend: { display: false },
          tooltip: { enabled: false },
          title: {
            display: true,
            fullSize: false,
            text: chartTitle,
            color: "#000",
            font: { family: FONT, size: 16.67, weight: "normal" },
            padding: { top: 12, bottom: 3 },
          },
        },
        scales: {
          x: {
            type: "linear",
            min: -490,
            max: 10405,
            afterFit: (s: any) => { s.height = 58; },
            afterBuildTicks: (s: any) => { s.ticks = xTicks.map((value) => ({ value })); },
            ticks: {
              color: "#000",
              font: { family: FONT, size: 13.9 },
              maxRotation: 0,
              padding: 7,
              callback: (v: any) => String(v),
            },
            grid: { color: "#b0b0b0", lineWidth: 1, tickColor: "#000", tickLength: 5 },
            border: { color: "#000" },
            title: { display: true, text: xTitle, color: "#000", font: { family: FONT, size: 13.9 }, padding: { top: 4, bottom: 14.7 } },
          },
          y: {
            type: "linear",
            min: 6054.64,
            max: 6106.35,
            afterFit: (s: any) => { s.width = 81; },
            afterBuildTicks: (s: any) => { s.ticks = yTicks.map((value) => ({ value })); },
            ticks: {
              color: "#000",
              font: { family: FONT, size: 13.9 },
              padding: 5,
              callback: (v: any) => String(v),
            },
            grid: { color: "#b0b0b0", lineWidth: 1, tickColor: "#000", tickLength: 5 },
            border: { color: "#000" },
            title: { display: true, text: yTitle, color: "#000", font: { family: FONT, size: 13.9 }, padding: { top: 13, bottom: 0 } },
          },
        },
      },
    } as any);
    return () => chart.destroy();
  }, []);
  return <canvas ref={ref} width={1000} height={1000} style={{ position: "absolute", left: 0, top: 0, display: "block" }} />;
}
